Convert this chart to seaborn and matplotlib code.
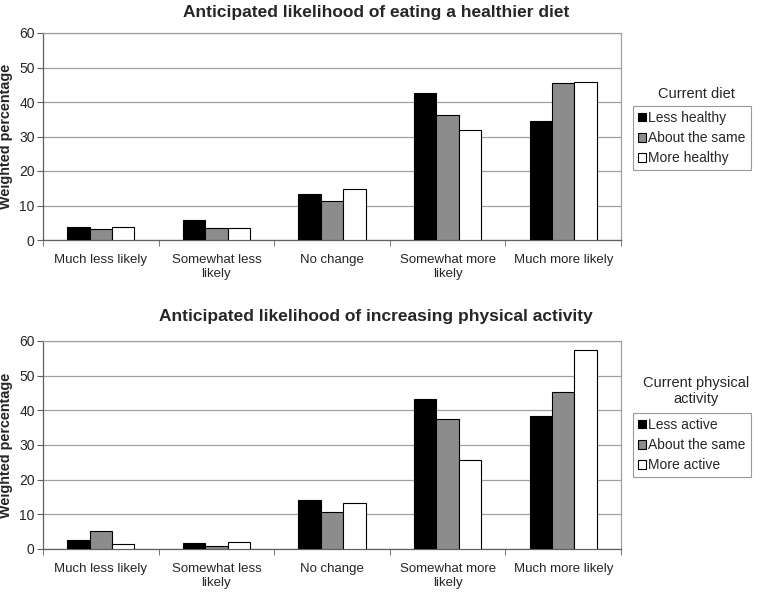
import pandas as pd
import matplotlib.pyplot as plt
import seaborn as sb
import numpy as np

# Response categories (x axis)
categories = ['Much less likely', 'Somewhat less\nlikely', 'No change',
              'Somewhat more\nlikely', 'Much more likely']

# Top panel: diet
diet_groups = ['Less healthy', 'About the same', 'More healthy']
diet_less = [3.8, 5.8, 13.4, 42.7, 34.6]
diet_same = [3.3, 3.4, 11.2, 36.2, 45.6]
diet_more = [3.9, 3.4, 14.9, 31.8, 45.8]

# Bottom panel: physical activity
pa_groups = ['Less active', 'About the same', 'More active']
pa_less = [2.5, 1.6, 14.0, 43.4, 38.3]
pa_same = [5.2, 1.0, 10.7, 37.5, 45.4]
pa_more = [1.4, 2.0, 13.3, 25.6, 57.5]

colors = ['#000000', '#8c8c8c', '#ffffff']

sb.set_style('white')
plt.rcParams['font.family'] = ['Liberation Sans', 'DejaVu Sans']


def long_table(groups, series):
    rows = []
    for g, vals in zip(groups, series):
        for c, v in zip(categories, vals):
            rows.append({'category': c, 'group': g, 'value': v})
    return pd.DataFrame(rows)


def draw_panel(ax, df, groups, legend_title, title_y, title, leg_title_y, leg_box_y):
    sb.barplot(data=df, x='category', y='value', hue='group', hue_order=groups,
               order=categories, palette=colors, width=0.58, gap=0,
               edgecolor='black', linewidth=0.8, ax=ax, legend=False, zorder=3)
    ax.set_ylim(0, 60)
    ax.set_xlim(-0.5, len(categories) - 0.5)
    ax.set_yticks(range(0, 61, 10))
    ax.yaxis.grid(True, color='#a0a0a0', linewidth=0.9, zorder=0)
    ax.set_axisbelow(True)
    for s in ['left', 'bottom', 'top', 'right']:
        ax.spines[s].set_visible(True)
        ax.spines[s].set_color('#a0a0a0')
        ax.spines[s].set_linewidth(0.9)
    ax.spines['left'].set_color('#606060')
    ax.spines['bottom'].set_color('#606060')
    ax.set_xlabel('')
    ax.set_ylabel('Weighted percentage', fontsize=10.4, fontweight='bold')
    ax.yaxis.set_label_coords(-0.052, 0.5)
    ax.tick_params(axis='x', length=0, labelsize=9.5, pad=10)
    ax.tick_params(axis='y', length=4, labelsize=10, left=True, color='#606060', pad=2)
    ax.set_xticks(np.arange(-0.5, len(categories), 1), minor=True)
    ax.tick_params(axis='x', which='minor', length=4, bottom=True, color='#606060')

    fig.text(376 / 761, title_y, title, ha='center', va='center', fontsize=12.5, fontweight='bold')

    handles = [plt.Rectangle((0, 0), 1, 1, facecolor=c, edgecolor='black', linewidth=0.8)
               for c in colors]
    leg = ax.legend(handles, groups, loc='upper left', bbox_to_anchor=(633 / 761, leg_box_y),
                    bbox_transform=fig.transFigure, fontsize=10, frameon=True,
                    fancybox=False, handlelength=0.6, handleheight=0.6,
                    handletextpad=0.15, borderpad=0.35, labelspacing=0.45,
                    borderaxespad=0)
    leg.get_frame().set_edgecolor('#808080')
    leg.get_frame().set_linewidth(0.8)
    fig.text(696 / 761, leg_title_y, legend_title, ha='center', va='center',
             fontsize=10.5, linespacing=1.1)


fig = plt.figure(figsize=(7.61, 5.93), dpi=100)
ax1 = fig.add_axes([43 / 761, 1 - 240 / 593, 578 / 761, 207 / 593])
ax2 = fig.add_axes([43 / 761, 1 - 549 / 593, 578 / 761, 208 / 593])

draw_panel(ax1, long_table(diet_groups, [diet_less, diet_same, diet_more]), diet_groups,
           'Current diet', 1 - 13 / 593, 'Anticipated likelihood of eating a healthier diet',
           1 - 94 / 593, 1 - 106 / 593)
draw_panel(ax2, long_table(pa_groups, [pa_less, pa_same, pa_more]), pa_groups,
           'Current physical\nactivity', 1 - 317 / 593,
           'Anticipated likelihood of increasing physical activity',
           1 - 391 / 593, 1 - 413 / 593)

fig.savefig('out.png', dpi=100)
